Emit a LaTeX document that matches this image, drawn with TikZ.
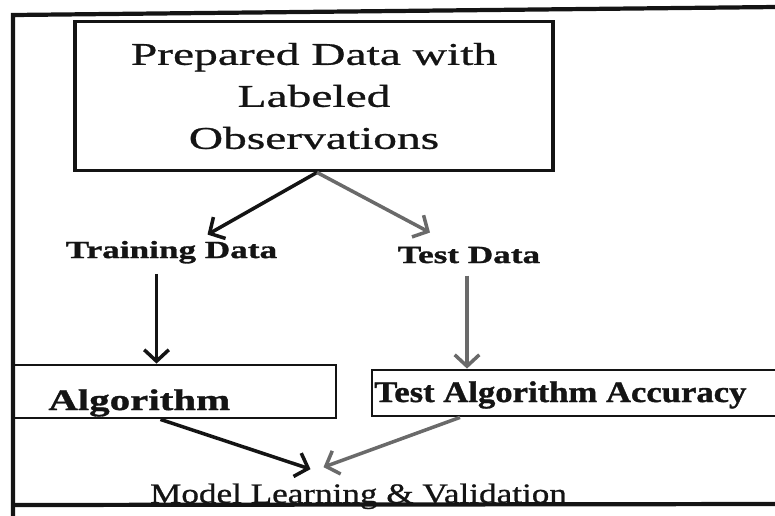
\documentclass[tikz,border=0pt]{standalone}
\usepackage{fontspec}
\usepackage{graphicx}
\setmainfont{Liberation Serif}
% wide, heavy serif faces for the different labels
\newfontfamily\prepfont[FakeStretch=1.5,FakeBold=0.9]{Liberation Serif}
\newfontfamily\datafont[FakeStretch=1.43,FakeBold=1.2]{Liberation Serif}
\newfontfamily\algfont[FakeStretch=1.37,FakeBold=1.2]{Liberation Serif}
\newfontfamily\accfont[FakeStretch=1.16,FakeBold=1.2]{Liberation Serif}
\newfontfamily\modelfont[FakeStretch=1.25,FakeBold=0.9]{Liberation Serif}
\usetikzlibrary{arrows.meta,calc}
\newdimen\pxu \pxu=0.02cm
\definecolor{ink}{HTML}{141414}
\definecolor{greyink}{HTML}{6A6A6A}
\begin{document}
\begin{tikzpicture}[x=0.02cm,y=-0.02cm,
  frame/.style={draw=ink,line width=2.4pt},
  topbox/.style={draw=ink,line width=2.2pt,rectangle,inner sep=0pt,text=ink,align=center,
    font=\prepfont\fontsize{18}{23.9}\selectfont},
  lowbox/.style={draw=ink,line width=1.6pt,rectangle,inner sep=0pt},
  datalabel/.style={inner sep=0pt,anchor=base,text=ink,font=\datafont\bfseries\fontsize{14}{16}\selectfont},
  conn/.style={line width=2pt,-{Straight Barb[length=6.5pt,width=14pt]}},
  darkconn/.style={conn,draw=ink},
  greyconn/.style={conn,draw=greyink}]
\useasboundingbox (0,0) rectangle (775,515);
\clip (0,0) rectangle (775,515);

% outer frame
\draw[frame] (13,516) -- (13,15) -- (776,7);
\draw[frame] (13,505) -- (776,504);

% source box
\node[topbox,minimum width=478\pxu,minimum height=149\pxu] (prep) at (314,96)
  {Prepared Data with\\Labeled\\Observations};

% split labels
\node[datalabel] (train) at (171.5,258) {Training Data};
\node[datalabel] (testdata) at (469,263) {Test Data};

% lower boxes and their texts
\node[lowbox,minimum width=323\pxu,minimum height=53\pxu] (algbox) at (174.5,391.5) {};
\node[inner sep=0pt,anchor=base west,text=ink,font=\algfont\bfseries\fontsize{17}{20}\selectfont]
  (alg) at (48,410) {Algorithm};
\node[lowbox,minimum width=428\pxu,minimum height=46\pxu] (testbox) at (586,393) {};
\node[inner sep=0pt,anchor=base west,text=ink,font=\accfont\bfseries\fontsize{17}{20}\selectfont]
  (acc) at (374,402) {Test Algorithm Accuracy};

% result label
\node[inner sep=0pt,anchor=base,text=ink,font=\modelfont\fontsize{16}{19}\selectfont]
  (model) at (358.5,503) {Model Learning \& Validation};

% connectors
\draw[darkconn] ([xshift=3\pxu]prep.south) -- ([xshift=36\pxu,yshift=6\pxu]train.north);
\draw[greyconn] ([xshift=3\pxu]prep.south) -- ([xshift=-39\pxu,yshift=14\pxu]testdata.north);
\draw[darkconn] ([xshift=-15\pxu,yshift=-10\pxu]train.south) -- ([xshift=-15\pxu]train.south |- algbox.north);
\draw[greyconn] ([xshift=-2\pxu,yshift=-12\pxu]testdata.south) -- ([xshift=-2\pxu]testdata.south |- testbox.north);
\draw[darkconn] ([xshift=-14\pxu]algbox.south) -- ([xshift=-48\pxu,yshift=14\pxu]model.north);
\draw[greyconn] ([xshift=-126\pxu]testbox.south) -- ([xshift=-35\pxu,yshift=16\pxu]model.north);
\end{tikzpicture}
\end{document}
